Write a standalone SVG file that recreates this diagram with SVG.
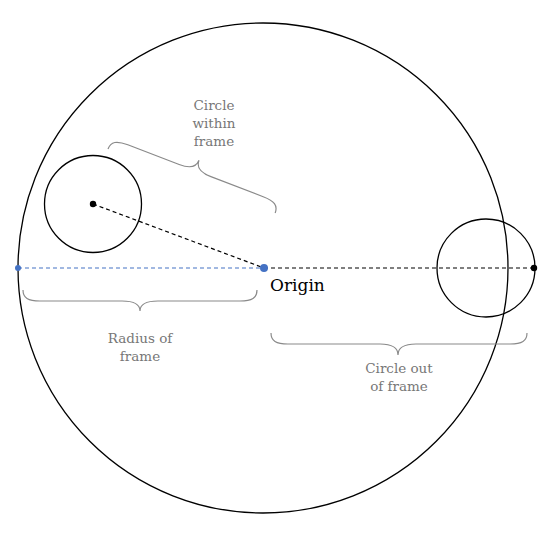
<svg xmlns="http://www.w3.org/2000/svg" width="553" height="534" viewBox="0 0 553 534">
<style>
.circ{fill:none;stroke:#000;stroke-width:1.3}
.dash{fill:none;stroke:#000;stroke-width:1.2;stroke-dasharray:4 3}
.bdash{fill:none;stroke:#4472c4;stroke-width:1.2;stroke-dasharray:4 3}
.brace{fill:none;stroke:#8a8a8a;stroke-width:1.2}
.lbl{font-family:"DejaVu Serif","Liberation Serif",serif;font-size:13.5px;fill:#777;text-anchor:middle}
.org{font-family:"DejaVu Serif","Liberation Serif",serif;font-size:17px;fill:#000}
</style>
<rect width="553" height="534" fill="#fff"/>
<g id="frame"><circle class="circ" cx="263" cy="268" r="245"/></g>
<g id="inner-circle"><circle class="circ" cx="93" cy="204" r="48.5"/><circle cx="93" cy="204" r="3.2" fill="#000"/></g>
<g id="outer-circle"><circle class="circ" cx="486" cy="268" r="49"/><circle cx="534" cy="268" r="3.2" fill="#000"/></g>
<g id="connectors">
<line class="dash" x1="93" y1="204" x2="264" y2="268"/>
<line class="dash" x1="264" y1="268" x2="534" y2="268"/>
<line class="bdash" x1="18" y1="268" x2="264" y2="268"/>
</g>
<g id="origin"><circle cx="264" cy="268" r="4" fill="#4472c4"/><circle cx="18" cy="268" r="3" fill="#4472c4"/><text class="org" x="270" y="291">Origin</text></g>
<g id="brace-within">
<path class="brace" transform="translate(108,149) rotate(20.97)" d="M0,0 C0,-8 5,-11 17,-11 L72,-11 C84,-11 89,-15 89,-22 C89,-15 94,-11 106,-11 L162,-11 C174,-11 179,-8 179,0"/>
<text class="lbl" x="214" y="110">Circle</text><text class="lbl" x="214" y="128">within</text><text class="lbl" x="214" y="146">frame</text>
</g>
<g id="brace-radius">
<path class="brace" d="M23,290 C23,298 28,301 40,301 L122,301 C134,301 140,305 140,311 C140,305 146,301 158,301 L240,301 C252,301 257,298 257,290"/>
<text class="lbl" x="140" y="343">Radius of</text><text class="lbl" x="140" y="361">frame</text>
</g>
<g id="brace-out">
<path class="brace" d="M271,333 C271,341 276,344 288,344 L380,344 C392,344 398,348 398,355 C398,348 404,344 416,344 L510,344 C522,344 527,341 527,333"/>
<text class="lbl" x="399" y="373">Circle out</text><text class="lbl" x="399" y="391">of frame</text>
</g>
</svg>
